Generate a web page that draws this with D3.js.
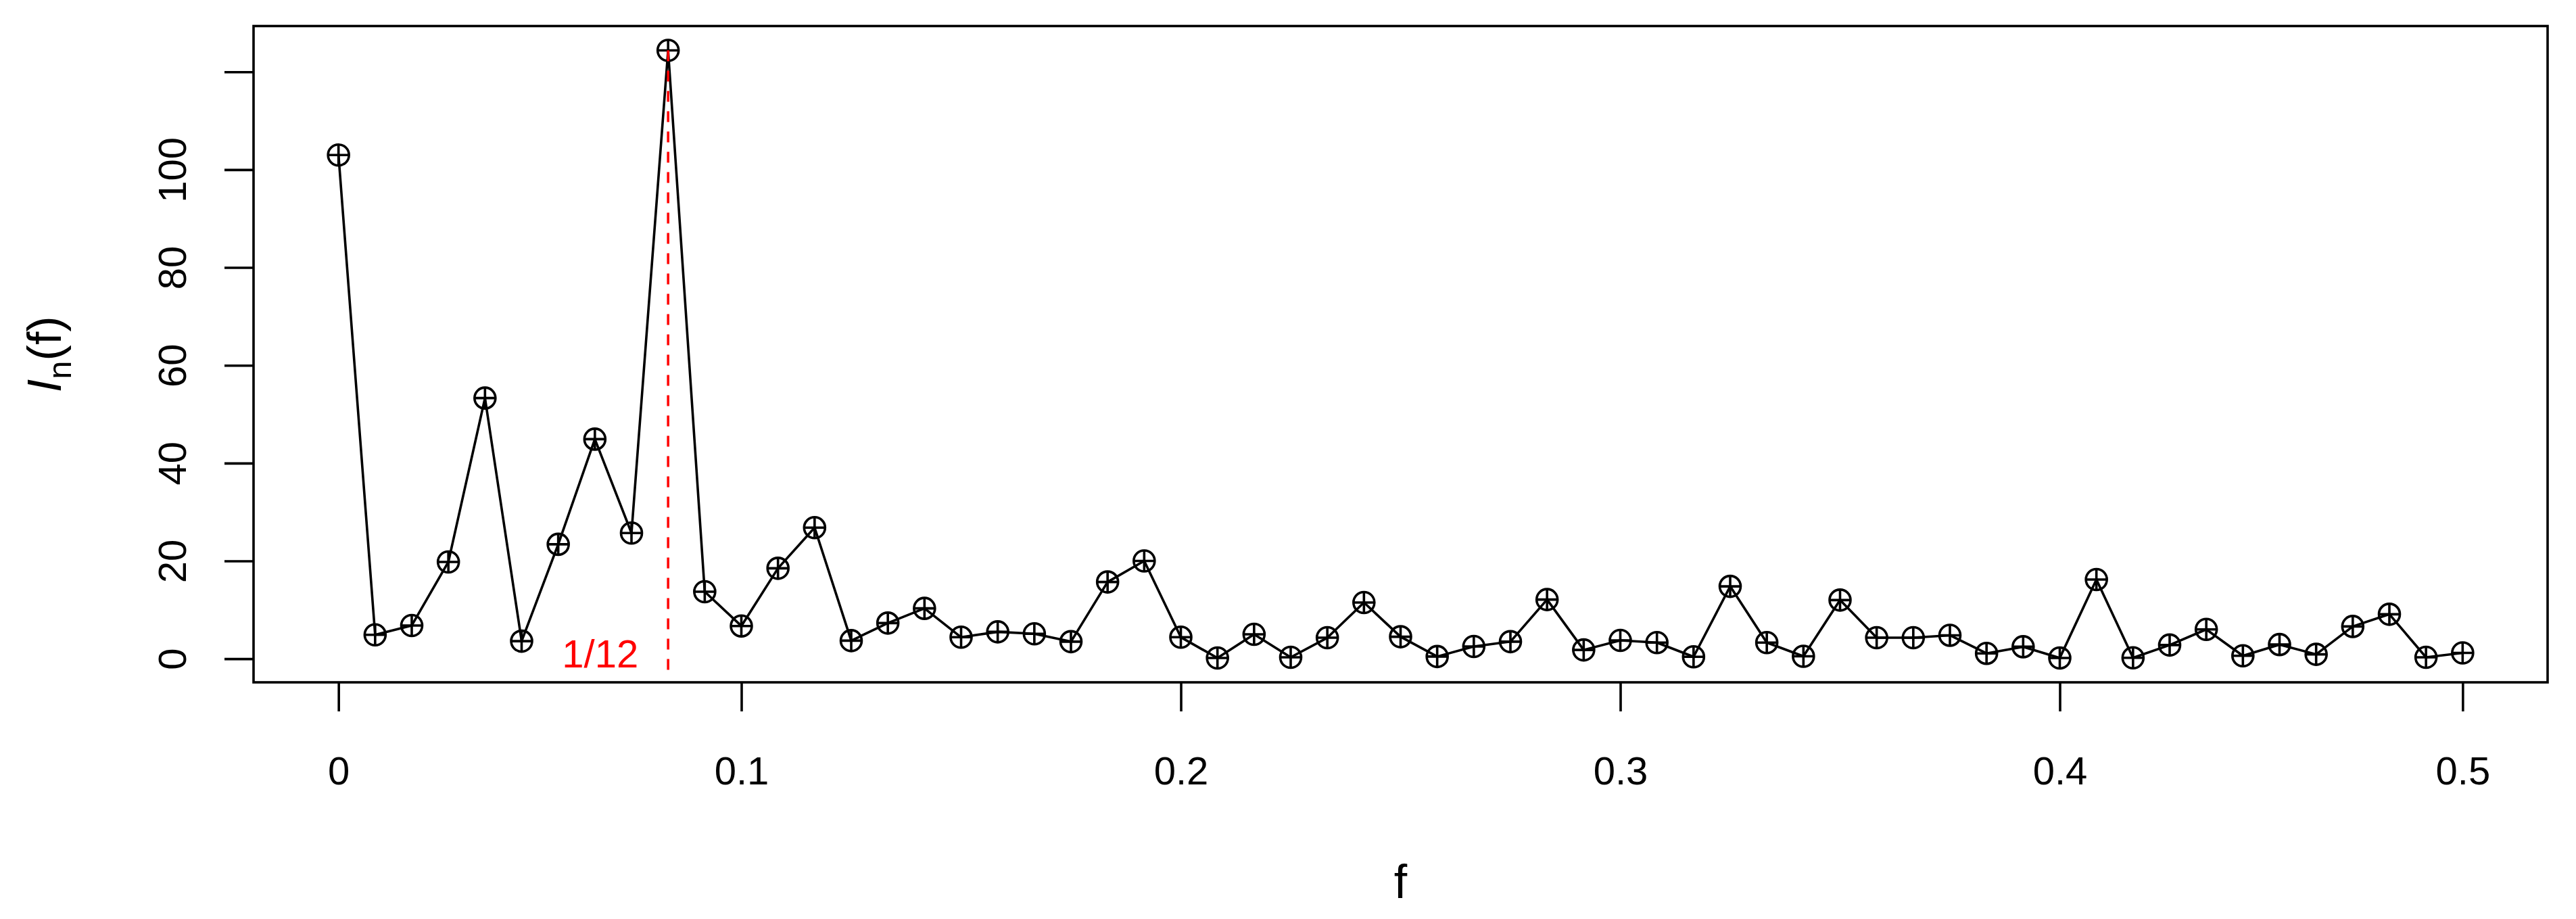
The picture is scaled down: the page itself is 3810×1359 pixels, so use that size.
<!DOCTYPE html>
<html>
<head>
<meta charset="utf-8">
<script src="https://cdn.jsdelivr.net/npm/d3@7"></script>
<style>
    body { margin: 0; background: #fff; }
    svg { display: block; font-family: "Liberation Sans", Arial, Helvetica, sans-serif; }
</style>
</head>
<body>
<svg width="3810" height="1359"></svg>
<script>
// Periodogram I_n(f) at the Fourier frequencies k/n, n = 120

var n = 120;
var harmonics = [1, 2, 3, 4, 5, 6, 7, 8, 9, 10, 11, 12, 13, 14, 15, 16, 17, 18, 19, 20,
    21, 22, 23, 24, 25, 26, 27, 28, 29, 30, 31, 32, 33, 34, 35, 36, 37, 38, 39, 40,
    41, 42, 43, 44, 45, 46, 47, 48, 49, 50, 51, 52, 53, 54, 55, 56, 57, 58, 59];
var periodogram = [103.0, 4.9, 6.8, 19.8, 53.3, 3.6, 23.4, 44.9, 25.7, 124.4,
    13.7, 6.7, 18.5, 26.8, 3.7, 7.3, 10.3, 4.4, 5.5, 5.1,
    3.5, 15.7, 20.0, 4.4, 0.15, 5.0, 0.3, 4.3, 11.5, 4.5,
    0.45, 2.5, 3.5, 12.1, 1.8, 3.75, 3.3, 0.4, 14.8, 3.3,
    0.5, 12.0, 4.3, 4.3, 4.8, 1.1, 2.45, 0.15, 16.2, 0.2,
    2.8, 6.0, 0.6, 2.9, 0.9, 6.6, 9.1, 0.3, 1.2];

// x axis: first and last tick sit on the first / last frequency
var xTickLabels = ['0', '0.1', '0.2', '0.3', '0.4', '0.5'];
var xTickAt = [harmonics[0] / n, 0.1, 0.2, 0.3, 0.4, harmonics[harmonics.length - 1] / n];

var yTicks = [0, 20, 40, 60, 80, 100, 120];
var yTickLabels = ['0', '20', '40', '60', '80', '100', ''];

var markFreq = 1 / 12;
var markLabel = '1/12';

var svg = d3.select('svg');
var svgWidth = +svg.attr('width');
var svgHeight = +svg.attr('height');

var padding = {t: 38.5, r: 42, b: 350, l: 375};
var plotWidth = svgWidth - padding.l - padding.r;
var plotHeight = svgHeight - padding.t - padding.b;

var lwd = 3.6;
var tickLen = 43;

var data = harmonics.map(function(k, i) {
    return {f: k / n, v: periodogram[i]};
});

// R style 4% padding on both ends
function padExtent(ext) {
    var r = ext[1] - ext[0];
    return [ext[0] - 0.04 * r, ext[1] + 0.04 * r];
}

var xScale = d3.scaleLinear()
    .domain(padExtent(d3.extent(data, function(d) { return d.f; })))
    .range([0, plotWidth]);

var yScale = d3.scaleLinear()
    .domain(padExtent(d3.extent(data, function(d) { return d.v; })))
    .range([plotHeight, 0]);

var plot = svg.append('g')
    .attr('transform', 'translate(' + [padding.l, padding.t] + ')');

// x axis
var xAxis = plot.append('g')
    .attr('class', 'axis axis-x')
    .attr('transform', 'translate(0,' + plotHeight + ')')
    .call(d3.axisBottom(xScale)
        .tickValues(xTickAt)
        .tickSize(tickLen)
        .tickFormat(function(d, i) { return xTickLabels[i]; }));

xAxis.select('.domain').remove();
xAxis.selectAll('line').attr('stroke', '#000').attr('stroke-width', lwd);
xAxis.selectAll('text')
    .attr('y', 151)
    .attr('dy', 0)
    .attr('fill', '#000')
    .style('font-size', '58px')
    .style('font-family', '"Liberation Sans", Arial, Helvetica, sans-serif');

// y axis, labels parallel to the axis
var yAxis = plot.append('g')
    .attr('class', 'axis axis-y')
    .call(d3.axisLeft(yScale)
        .tickValues(yTicks)
        .tickSize(tickLen)
        .tickFormat(function(d, i) { return yTickLabels[i]; }));

yAxis.select('.domain').remove();
yAxis.selectAll('line').attr('stroke', '#000').attr('stroke-width', lwd);
yAxis.selectAll('text')
    .attr('x', 0)
    .attr('dy', 0)
    .attr('text-anchor', 'middle')
    .attr('transform', 'translate(-100,0) rotate(-90)')
    .attr('fill', '#000')
    .style('font-size', '58px')
    .style('font-family', '"Liberation Sans", Arial, Helvetica, sans-serif');

// series line
var line = d3.line()
    .x(function(d) { return xScale(d.f); })
    .y(function(d) { return yScale(d.v); });

plot.append('path')
    .datum(data)
    .attr('d', line)
    .attr('fill', 'none')
    .attr('stroke', '#000')
    .attr('stroke-width', lwd)
    .attr('stroke-linejoin', 'round');

// circle-plus markers (pch 10)
var r = 15.5;
var dots = plot.selectAll('.dot')
    .data(data)
    .enter()
    .append('g')
    .attr('class', 'dot')
    .attr('transform', function(d) {
        return 'translate(' + [xScale(d.f), yScale(d.v)] + ')';
    });

dots.append('circle')
    .attr('r', r)
    .attr('fill', 'none')
    .attr('stroke', '#000')
    .attr('stroke-width', lwd);

dots.append('path')
    .attr('d', 'M' + (-r) + ',0H' + r + 'M0,' + (-r) + 'V' + r)
    .attr('stroke', '#000')
    .attr('stroke-width', lwd);

// dashed marker at 1/12
var peak = d3.max(data, function(d) { return d.v; });
plot.append('line')
    .attr('x1', xScale(markFreq))
    .attr('x2', xScale(markFreq))
    .attr('y1', yScale(peak))
    .attr('y2', plotHeight - 12)
    .attr('stroke', '#ff0000')
    .attr('stroke-width', lwd)
    .attr('stroke-dasharray', '16,14');

plot.append('text')
    .attr('x', xScale(markFreq) - 44)
    .attr('y', yScale(0) + 13)
    .attr('text-anchor', 'end')
    .attr('fill', '#ff0000')
    .style('font-size', '58px')
    .text(markLabel);

// plot frame
plot.append('rect')
    .attr('width', plotWidth)
    .attr('height', plotHeight)
    .attr('fill', 'none')
    .attr('stroke', '#000')
    .attr('stroke-width', lwd);

// axis titles
svg.append('text')
    .attr('x', padding.l + plotWidth / 2)
    .attr('y', 1328)
    .attr('text-anchor', 'middle')
    .style('font-size', '70px')
    .text('f');

var ylab = svg.append('text')
    .attr('text-anchor', 'middle')
    .attr('transform', 'translate(' + [90, padding.t + plotHeight / 2] + ') rotate(-90)')
    .style('font-size', '70px');

ylab.append('tspan').style('font-style', 'italic').text('I');
ylab.append('tspan').attr('dy', 15).style('font-size', '49px').text('n');
ylab.append('tspan').attr('dy', -15).text('(f)');
</script>
</body>
</html>
